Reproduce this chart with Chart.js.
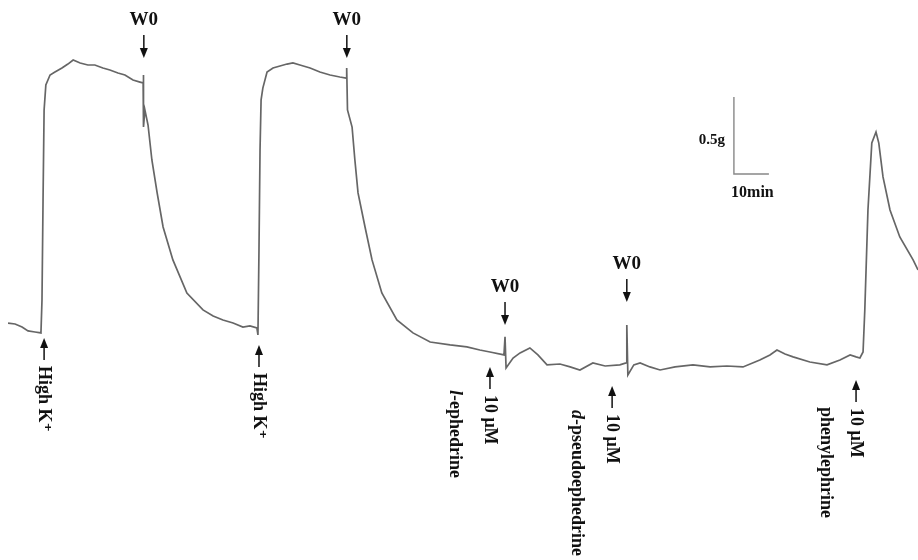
<!DOCTYPE html>
<html>
<head>
<meta charset="utf-8">
<script src="https://cdn.jsdelivr.net/npm/chart.js@4"></script>
<style>
  body { margin: 0; background: #fff; }
  canvas { display: block; }
</style>
</head>
<body>
<canvas id="trace" width="918" height="560"></canvas>
<script>
// tension trace: time (min) vs tension (g)
const timeMin = [
  2.3, 4.3, 6.3, 8.0, 10.0, 11.7,
  12.0, 12.3, 12.6, 13.1, 14.3, 15.7, 17.7, 19.4, 20.9, 22.9, 25.1, 27.1, 29.4, 31.4, 33.7, 35.7, 38.0, 40.0, 40.9,
  40.94, 41.06, 41.4, 42.3, 43.4, 44.9, 46.6, 49.4, 53.4, 58.0, 60.9, 63.7, 66.6, 69.4, 71.4, 73.4, 73.7,
  74.0, 74.3, 74.6, 75.1, 76.3, 78.0, 80.0, 82.0, 83.7, 85.7, 88.6, 91.4, 94.3, 97.1, 98.9,
  99.06, 99.29, 100.6, 101.4, 102.3, 104.3, 106.3, 109.1, 113.4, 118.0, 122.9, 128.6, 133.4, 137.1, 140.0, 144.0,
  144.3, 144.6, 146.6, 148.6, 151.4, 153.7, 156.3, 160.0, 162.9, 165.7, 169.4, 172.9, 177.1, 178.9,
  179.1, 179.4, 181.1, 182.9, 185.7, 188.6, 192.9, 198.0, 202.9, 207.7, 212.3, 217.1, 220.0, 222.0, 224.3,
  226.6, 231.4, 236.3, 240.0, 242.9, 244.6, 245.7, 246.6,
  247.1, 248.0, 249.1, 250.3, 251.1, 252.3, 254.3, 257.1, 260.9, 262.3
];
const tensionG = [
  0.045, 0.039, 0.019, -0.006, -0.013, -0.019,
  0.195, 0.844, 1.429, 1.591, 1.656, 1.675, 1.701, 1.727, 1.753, 1.734, 1.721, 1.721, 1.701, 1.688, 1.669, 1.656, 1.623, 1.610, 1.604,
  1.656, 1.318, 1.429, 1.331, 1.104, 0.890, 0.669, 0.455, 0.240, 0.130, 0.091, 0.065, 0.045, 0.019, 0.026, 0.013, -0.032,
  0.519, 1.169, 1.494, 1.571, 1.675, 1.701, 1.714, 1.727, 1.734, 1.721, 1.701, 1.675, 1.656, 1.643, 1.636,
  1.701, 1.429, 1.318, 1.104, 0.890, 0.669, 0.455, 0.240, 0.065, -0.019, -0.078, -0.097, -0.110, -0.130, -0.143, -0.162,
  -0.045, -0.247, -0.182, -0.149, -0.117, -0.162, -0.227, -0.221, -0.240, -0.260, -0.214, -0.234, -0.227, -0.214,
  0.032, -0.292, -0.227, -0.214, -0.240, -0.260, -0.240, -0.227, -0.240, -0.234, -0.240, -0.195, -0.162, -0.130, -0.156,
  -0.175, -0.208, -0.227, -0.195, -0.162, -0.175, -0.182, -0.143,
  0.130, 0.779, 1.214, 1.286, 1.214, 0.994, 0.779, 0.604, 0.455, 0.390
];

// wash-out markers (down arrows): time, arrow tip tension
const washTimes = [41.1, 99.1, 144.3, 179.1];
const washTips = [1.766, 1.766, 0.032, 0.182];
const washLabel = "W0";

// drug additions (up arrows): time, arrow tip tension, label
const addTimes = [12.6, 74.0, 140.0, 174.9, 244.6];
const addTips = [-0.052, -0.097, -0.24, -0.364, -0.325];
const addLabels = ["High K\u207A", "High K\u207A", "10 \u03BCM", "10 \u03BCM", "10 \u03BCM"];

// drug names printed beside the additions (italic prefix + name)
const drugTimes = [130.0, 164.9, 236.0];
const drugTops = [-0.39, -0.52, -0.50];
const drugPrefix = ["l", "d", ""];
const drugNames = ["-ephedrine", "-pseudoephedrine", "phenylephrine"];

// scale bar: 10 min by 0.5 g
const barTime = [209.7, 219.7];
const barTension = [1.013, 1.513];

const xMin = 0, xMax = 262.3, yMin = -1.494, yMax = 2.143;

const points = timeMin.map((t, i) => ({ x: t, y: tensionG[i] }));

const serif = '"Liberation Serif", "DejaVu Serif", serif';

function arrow(ctx, x, yTip, len, dir) {
  // dir = 1 pointing down, -1 pointing up
  ctx.beginPath();
  ctx.moveTo(x, yTip - dir * len);
  ctx.lineTo(x, yTip - dir * 6);
  ctx.strokeStyle = '#111';
  ctx.lineWidth = 1.5;
  ctx.stroke();
  ctx.beginPath();
  ctx.moveTo(x, yTip);
  ctx.lineTo(x - 4, yTip - dir * 10);
  ctx.lineTo(x + 4, yTip - dir * 10);
  ctx.closePath();
  ctx.fillStyle = '#111';
  ctx.fill();
}

function vText(ctx, text, x, yTop, size, prefix) {
  ctx.save();
  ctx.translate(x, yTop);
  ctx.rotate(Math.PI / 2);
  ctx.fillStyle = '#111';
  ctx.textAlign = 'left';
  ctx.textBaseline = 'middle';
  let off = 0;
  if (prefix) {
    ctx.font = 'italic bold ' + size + 'px ' + serif;
    ctx.fillText(prefix, 0, 0);
    off = ctx.measureText(prefix).width;
  }
  ctx.font = 'bold ' + size + 'px ' + serif;
  ctx.fillText(text, off, 0);
  ctx.restore();
}

const markers = {
  id: 'markers',
  afterDatasetsDraw(chart) {
    const ctx = chart.ctx;
    const xs = chart.scales.x, ys = chart.scales.y;
    ctx.save();
    washTimes.forEach((t, i) => {
      const x = xs.getPixelForValue(t);
      const y = ys.getPixelForValue(washTips[i]);
      arrow(ctx, x, y, 23, 1);
      ctx.font = 'bold 19px ' + serif;
      ctx.fillStyle = '#111';
      ctx.textAlign = 'center';
      ctx.textBaseline = 'middle';
      ctx.fillText(washLabel, x, y - 38);
    });
    addTimes.forEach((t, i) => {
      const x = xs.getPixelForValue(t);
      const y = ys.getPixelForValue(addTips[i]);
      arrow(ctx, x, y, 22, -1);
      vText(ctx, addLabels[i], x, y + 28, 18);
    });
    drugTimes.forEach((t, i) => {
      vText(ctx, drugNames[i], xs.getPixelForValue(t), ys.getPixelForValue(drugTops[i]), 18, drugPrefix[i]);
    });
    // scale bar
    const bx0 = xs.getPixelForValue(barTime[0]), bx1 = xs.getPixelForValue(barTime[1]);
    const by0 = ys.getPixelForValue(barTension[0]), by1 = ys.getPixelForValue(barTension[1]);
    ctx.beginPath();
    ctx.moveTo(bx0, by1);
    ctx.lineTo(bx0, by0);
    ctx.lineTo(bx1, by0);
    ctx.strokeStyle = '#888';
    ctx.lineWidth = 1.4;
    ctx.stroke();
    ctx.font = 'bold 15px ' + serif;
    ctx.fillStyle = '#111';
    ctx.textAlign = 'right';
    ctx.textBaseline = 'middle';
    ctx.fillText('0.5g', bx0 - 9, by1 + 43);
    ctx.font = 'bold 16px ' + serif;
    ctx.textAlign = 'center';
    ctx.fillText('10min', (bx0 + bx1) / 2 + 1, by0 + 19);
    ctx.restore();
  }
};

new Chart(document.getElementById('trace').getContext('2d'), {
  type: 'scatter',
  data: {
    datasets: [{
      data: points,
      showLine: true,
      borderColor: '#666',
      borderWidth: 1.7,
      pointRadius: 0,
      tension: 0
    }]
  },
  options: {
    responsive: false,
    animation: false,
    layout: { padding: 0 },
    plugins: { legend: { display: false }, tooltip: { enabled: false } },
    scales: {
      x: { type: 'linear', min: xMin, max: xMax, display: false },
      y: { type: 'linear', min: yMin, max: yMax, display: false }
    }
  },
  plugins: [markers]
});
</script>
</body>
</html>
